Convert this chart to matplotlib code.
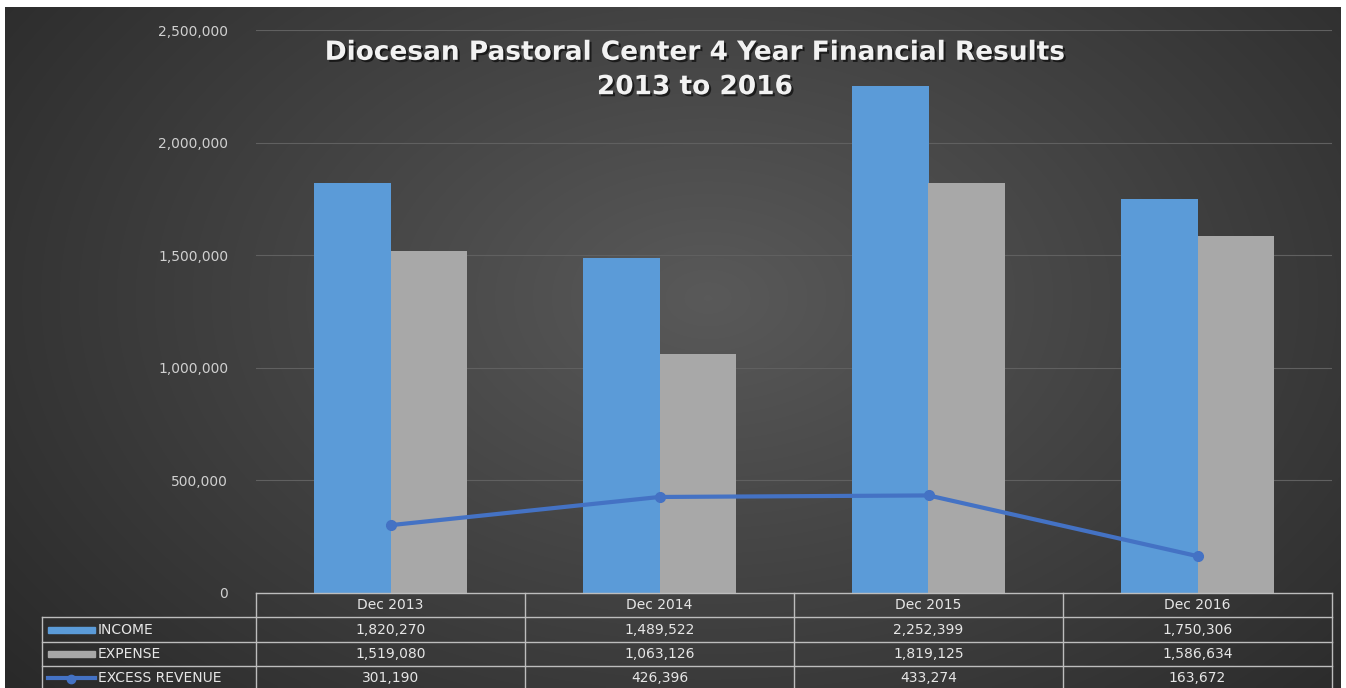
import numpy as np
import matplotlib.pyplot as plt
from matplotlib.patches import Rectangle
import matplotlib.patheffects as pe

categories = ['Dec 2013', 'Dec 2014', 'Dec 2015', 'Dec 2016']
income = [1820270, 1489522, 2252399, 1750306]
expense = [1519080, 1063126, 1819125, 1586634]
excess = [301190, 426396, 433274, 163672]
series_names = ['INCOME', 'EXPENSE', 'EXCESS REVENUE']
title = 'Diocesan Pastoral Center 4 Year Financial Results\n2013 to 2016'

W, H = 1346, 688
fig = plt.figure(figsize=(W / 100, H / 100), dpi=100, facecolor='white')

# dark radial background
bg = fig.add_axes([5 / W, 0, (W - 10) / W, (H - 7) / H])
yy, xx = np.mgrid[0:200, 0:400]
r = np.sqrt(((xx - 210) / 260.0) ** 2 + ((yy - 85) / 170.0) ** 2)
shade = np.clip(0.35 - 0.18 * r, 0.14, 0.35)
bg.imshow(np.dstack([shade] * 3), aspect='auto', extent=[0, 1, 0, 1], interpolation='bilinear')
bg.set_axis_off()


def px(x0, y0, x1, y1):
    return [x0 / W, 1 - y1 / H, (x1 - x0) / W, (y1 - y0) / H]


ax = fig.add_axes(px(256, 30, 1332, 593))
ax.patch.set_alpha(0)
x = np.arange(len(categories))
bw = 0.286
ax.bar(x - bw / 2, income, bw, color='#5b9bd8', zorder=2)
ax.bar(x + bw / 2, expense, bw, color='#a8a8a8', zorder=2)
ax.plot(x, excess, color='#4472c4', lw=3, marker='o', ms=7, zorder=3)
ax.set_xlim(-0.5, len(categories) - 0.5)
ax.set_ylim(0, 2500000)
ax.set_yticks(np.arange(0, 2500001, 500000))
ax.set_yticklabels([f'{v:,}' for v in range(0, 2500001, 500000)], color='#d0d0d0', fontsize=10)
ax.set_xticks([])
ax.tick_params(axis='y', length=0, pad=20)
ax.grid(axis='y', color='#606060', lw=0.8, zorder=0)
for s in ax.spines.values():
    s.set_visible(False)

fig.text(695 / W, 1 - 70 / H, title, ha='center', va='center', fontsize=19,
         fontweight='bold', color='#f2f2f2', linespacing=1.42,
         path_effects=[pe.SimplePatchShadow(offset=(1.5, -1.5), shadow_rgbFace='black', alpha=0.6),
                       pe.Normal()])

# data table in pixel coordinates
tb = fig.add_axes([0, 0, 1, 1])
tb.set_xlim(0, W)
tb.set_ylim(H, 0)
tb.set_axis_off()
tb.patch.set_alpha(0)
lc = '#bdbdbd'
col_edges = np.linspace(256, 1332, len(categories) + 1)
rows = [593, 617, 642, 666, 690]
tc = '#e6e6e6'
fs = 10
for i, c in enumerate(categories):
    cx = (col_edges[i] + col_edges[i + 1]) / 2
    tb.text(cx, (rows[0] + rows[1]) / 2, c, ha='center', va='center', color=tc, fontsize=fs)
    for j, vals in enumerate([income, expense, excess]):
        tb.text(cx, (rows[j + 1] + rows[j + 2]) / 2, f'{vals[i]:,}', ha='center', va='center', color=tc, fontsize=fs)
# lines
tb.plot([256, 1332], [rows[0]] * 2, color=lc, lw=1)
for yv in rows[1:4]:
    tb.plot([42, 1332], [yv] * 2, color=lc, lw=1)
for xv in col_edges:
    tb.plot([xv, xv], [rows[0], H], color=lc, lw=1)
tb.plot([42, 42], [rows[1], H], color=lc, lw=1)
# legend keys
colors = ['#5b9bd8', '#a8a8a8']
for j, name in enumerate(series_names):
    cy = (rows[j + 1] + rows[j + 2]) / 2
    if j < 2:
        tb.add_patch(Rectangle((48, cy - 3), 47, 6, color=colors[j]))
    else:
        tb.plot([48, 95], [cy, cy], color='#4472c4', lw=3)
        tb.plot([71], [cy + 1], marker='o', color='#4472c4', ms=6)
    tb.text(98, cy, name, ha='left', va='center', color=tc, fontsize=fs)

fig.savefig('out.png', dpi=100, facecolor='white')
